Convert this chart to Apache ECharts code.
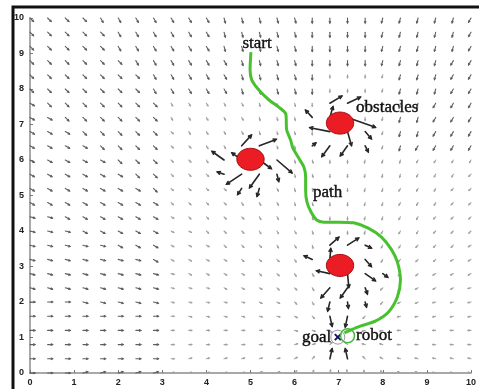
<!DOCTYPE html>
<html><head><meta charset="utf-8">
<script src="https://cdn.jsdelivr.net/npm/echarts@6/dist/echarts.min.js"></script>
<style>html,body{margin:0;padding:0;background:#fff;}#c{width:479px;height:389px;}</style>
</head><body><div id="c"></div>
<script>
// ---------- data ----------
const xTicks = [0,1,2,3,4,5,6,7,8,9,10];
const yTicks = [0,1,2,3,4,5,6,7,8,9,10];
// sample grid of the force field
const fieldX = [0,0.4,0.8,1.2,1.6,2,2.4,2.8,3.2,3.6,4,4.4,4.8,5.2,5.6,6,6.4,6.8,7.2,7.6,8,8.4,8.8,9.2,9.6,10];
const fieldY = [10,9.6,9.2,8.8,8.4,8,7.6,7.2,6.8,6.4,6,5.6,5.2,4.8,4.4,4,3.6,3.2,2.8,2.4,2,1.6,1.2,0.8,0.4,0];
// direction code per sample: A=0deg, B=15deg ... X=345deg ; upper case = strong arrow, lower case = weak arrow
const fieldRows = [
 "VVVVUUUUUUUTTTTTSSSSRRRRRQ",
 "VVVVVUUUUUUTTTTTSSSSRRRRRQ",
 "VVVVVUUUUUUTTTTTSSSSRRRRRQ",
 "VVVVVVUUUUUUTTTTSSSSRRRRQQ",
 "VVVVVVVUUUUUTTTTSsssrRRRQQ",
 "VVVVVVVUUUUUTTTTSsssrRRRQQ",
 "WVVVVVVVuuuuutttssssrRRQQQ",
 "WWVVVVVVuuuuutttssssrRRQQQ",
 "WWWVVVVVvuuuutttssssrRRQQQ",
 "WWWWVVVVvvuuuutttssrrRQQQQ",
 "WWWWWVVVvvuuuutttssrrrqqqq",
 "WWWWWWVVvvvuuutttssrrrqqqp",
 "WWWWWWWVvvvvuuuttssrrqqqpp",
 "WWWWWWWWvvvvuuuttssrrqqqpp",
 "XXWWWWWWwvvvvuuttssrrqqppp",
 "XXXWWWWWwwvvvuuutssrqqqppp",
 "XXXXXWWWwwwvvvuutssrqqpppo",
 "XXXXXXXWwwwwvvvutssrqpppoo",
 "XXXXXXXXxwwwwvvuutrqqppooo",
 "XXXXXXXXxxxwwwvvutrqppooon",
 "AAAXXXXXxxxxxwwvutrqpoonnn",
 "AAAAAAAAaxxxxxxwvuqponnnnn",
 "AAAAAAAAaaaaaaaxxvpnnmmmmm",
 "AAAAAAAAaaaaaaabbdjllmmmmm",
 "AAAAAAAAabbbbbbcdeijklllll",
 "AAABBBBBbbbbbccdefhijkklll"
];
// long arrows near the obstacles and the goal: [x, y, u, v]
const obstacleArrows = [
 [4.4,6.0,-0.27,0.24],[4.8,6.0,-0.22,0.20],[4.8,6.4,0.22,0.30],[5.2,6.4,0.38,0.18],
 [5.2,6.0,0.27,-0.24],[5.6,6.0,0.34,-0.36],[4.4,5.6,-0.15,0.06],[4.8,5.6,-0.34,-0.28],
 [5.2,5.6,-0.22,-0.38],[5.6,5.6,0.04,-0.20],[4.8,5.2,-0.09,-0.17],[5.2,5.2,-0.05,-0.22],
 [6.8,7.6,0.27,0.20],[7.2,7.6,0.29,0.17],[6.4,7.2,-0.15,0.20],[6.8,7.2,0.07,0.30],
 [7.2,7.2,0.63,-0.28],[6.8,6.8,-0.45,0.11],[7.2,6.8,0.09,-0.39],[7.6,6.8,0.14,-0.20],
 [6.4,6.4,0.08,0.08],[6.8,6.4,-0.18,-0.30],[7.2,6.4,-0.16,-0.28],[7.6,6.4,0.07,-0.17],
 [6.8,3.6,0.20,0.22],[7.2,3.6,0.25,0.20],[7.6,3.6,0.14,-0.08],[6.4,3.2,-0.18,0.10],
 [6.8,3.2,0.02,0.30],[7.6,3.2,0.14,-0.20],[6.8,2.8,-0.30,0.08],[7.2,2.8,0.03,-0.39],
 [7.6,2.8,0.23,-0.20],[8.0,2.8,0.11,-0.10],[6.8,2.4,-0.20,-0.28],[7.2,2.4,-0.16,-0.28],
 [7.6,2.4,0.05,-0.17],[6.8,2.0,-0.05,-0.25],[7.2,2.0,0.02,-0.17],[7.6,2.0,0.03,-0.14],
 [6.8,1.6,0.05,-0.28],[7.2,1.6,-0.05,-0.30],[6.8,0.4,0.05,0.28],[7.2,0.4,-0.05,0.28]
];
const obstacleX = [5.0, 7.03, 7.03];
const obstacleY = [6.02, 7.04, 3.03];
const obstacleR = [0.31, 0.31, 0.31];
const pathX = [5.01,4.99,5.03,5.19,5.42,5.64,5.80,5.82,5.91,5.96,6.09,6.21,6.25,6.25,6.28,6.37,6.50,6.66,7.00,7.34,7.67,7.97,8.19,8.33,8.40,8.33,8.13,7.83,7.49,7.27,7.13];
const pathY = [9.04,8.54,8.25,7.97,7.69,7.49,7.30,6.85,6.56,6.34,6.06,5.80,5.52,5.15,4.82,4.54,4.31,4.25,4.25,4.23,4.08,3.83,3.49,3.13,2.62,2.14,1.72,1.46,1.32,1.21,1.13];
const goalPoint = [6.98, 1.01];
const robotPoint = [7.2, 1.05];
const labelTexts = ["start", "obstacles", "path", "goal", "robot"];
const labelX = [5.15, 8.1, 6.75, 6.5, 7.8];
const labelY = [9.27, 7.49, 5.07, 1.0, 1.05];

// ---------- build series data ----------
function hasExplicit(x, y){
  return obstacleArrows.some(a => Math.abs(a[0]-x) < 1e-6 && Math.abs(a[1]-y) < 1e-6);
}
const fieldData = [];
fieldRows.forEach((row, r) => {
  for (let c = 0; c < row.length; c++) {
    const ch = row[c];
    if (ch === '.') continue;
    const x = fieldX[c], y = fieldY[r];
    if (hasExplicit(x, y)) continue;
    const code = ch.toUpperCase().charCodeAt(0) - 65;
    const strong = ch === ch.toUpperCase() ? 1 : 0;
    fieldData.push([x, y, code * 15, strong]);
  }
});
const pathData = pathX.map((x, i) => [x, pathY[i]]);
const obstacleData = obstacleX.map((x, i) => [x, obstacleY[i], obstacleR[i]]);
const labelData = labelX.map((x, i) => [x, labelY[i], i]);

function arrowEls(p0, p1, color, width, headLen){
  const dx = p1[0]-p0[0], dy = p1[1]-p0[1];
  const L = Math.sqrt(dx*dx+dy*dy) || 1;
  const ux = dx/L, uy = dy/L;
  const a = 0.5;
  const h1 = [p1[0] - headLen*(ux*Math.cos(a) - uy*Math.sin(a)), p1[1] - headLen*(uy*Math.cos(a) + ux*Math.sin(a))];
  const h2 = [p1[0] - headLen*(ux*Math.cos(a) + uy*Math.sin(a)), p1[1] - headLen*(uy*Math.cos(a) - ux*Math.sin(a))];
  return [
    {type:'line', shape:{x1:p0[0], y1:p0[1], x2:p1[0], y2:p1[1]}, style:{stroke:color, lineWidth:width, lineCap:'round'}},
    {type:'polyline', shape:{points:[h1, p1, h2]}, style:{stroke:color, lineWidth:width, fill:null, lineCap:'round'}}
  ];
}

const chart = echarts.init(document.getElementById('c'), null, {renderer:'canvas'});
const axisLabelStyle = {fontSize:9, fontWeight:'bold', color:'#222', fontFamily:'Liberation Sans'};
chart.setOption({
  animation:false,
  backgroundColor:'#ffffff',
  grid:{left:30, right:6, top:18, bottom:16, containLabel:false},
  xAxis:{type:'value', min:0, max:10, interval:1,
    axisLine:{show:true, onZero:false, lineStyle:{color:'#8c8c8c', width:1.5}},
    axisTick:{show:true, inside:true, length:3, lineStyle:{color:'#777'}},
    axisLabel:Object.assign({margin:5, customValues:xTicks}, axisLabelStyle),
    splitLine:{show:false}},
  yAxis:{type:'value', min:0, max:10, interval:1,
    axisLine:{show:true, onZero:false, lineStyle:{color:'#8c8c8c', width:1.5}},
    axisTick:{show:true, inside:true, length:3, lineStyle:{color:'#777'}},
    axisLabel:Object.assign({margin:6, customValues:yTicks}, axisLabelStyle),
    splitLine:{show:false}},
  graphic:[{type:'rect', shape:{x:13, y:7, width:480, height:400}, style:{fill:null, stroke:'#111', lineWidth:3}, z:100}],
  series:[
    {type:'custom', name:'field', data:fieldData, encode:{x:0, y:1}, z:2, silent:true,
     renderItem:function(params, api){
       const x = api.value(0), y = api.value(1), ang = api.value(2)*Math.PI/180, strong = api.value(3);
       const p0 = api.coord([x, y]);
       const L = strong ? 5 : 3;
       const p1 = [p0[0] + L*Math.cos(ang), p0[1] - L*Math.sin(ang)];
       return {type:'group', children: arrowEls(p0, p1, strong ? '#5e5e5e' : '#a2a2a2', 1.1, strong ? 1.6 : 1.1)};
     }},
    {type:'custom', name:'obstacleField', data:obstacleArrows, encode:{x:0, y:1}, z:3, silent:true,
     renderItem:function(params, api){
       const x = api.value(0), y = api.value(1);
       const p0 = api.coord([x, y]);
       const p1 = api.coord([x + api.value(2), y + api.value(3)]);
       return {type:'group', children: arrowEls(p0, p1, '#262626', 1.6, 3)};
     }},
    {type:'custom', name:'obstacles', data:obstacleData, encode:{x:0, y:1}, z:4, silent:true,
     renderItem:function(params, api){
       const c = api.coord([api.value(0), api.value(1)]);
       const s = api.size([api.value(2), api.value(2)]);
       const pts = [];
       for (let k = 0; k < 48; k++) {
         const t = k/48*Math.PI*2;
         pts.push([c[0] + s[0]*Math.cos(t), c[1] + s[1]*Math.sin(t)]);
       }
       return {type:'polygon', shape:{points:pts}, style:{fill:'#ec1c24', stroke:'#a30c10', lineWidth:1}};
     }},
    {type:'line', name:'path', data:pathData, showSymbol:false, smooth:0.25, z:5, silent:true,
     lineStyle:{color:'#47c22e', width:3}},
    {type:'custom', name:'markers', data:[[goalPoint[0], goalPoint[1], 0],[robotPoint[0], robotPoint[1], 1]], encode:{x:0, y:1}, z:6, silent:true,
     renderItem:function(params, api){
       const c = api.coord([api.value(0), api.value(1)]);
       if (api.value(2) === 0) {
         return {type:'group', children:[
           {type:'circle', shape:{cx:c[0], cy:c[1], r:7}, style:{fill:null, stroke:'#9a93a8', lineWidth:1}},
           {type:'line', shape:{x1:c[0]-3, y1:c[1]-3, x2:c[0]+3, y2:c[1]+3}, style:{stroke:'#14145a', lineWidth:2}},
           {type:'line', shape:{x1:c[0]-3, y1:c[1]+3, x2:c[0]+3, y2:c[1]-3}, style:{stroke:'#14145a', lineWidth:2}}
         ]};
       }
       return {type:'circle', shape:{cx:c[0], cy:c[1], r:7}, style:{fill:null, stroke:'#46b83a', lineWidth:1.5}};
     }},
    {type:'custom', name:'labels', data:labelData, encode:{x:0, y:1}, z:7, silent:true,
     renderItem:function(params, api){
       const c = api.coord([api.value(0), api.value(1)]);
       return {type:'text', x:c[0], y:c[1], style:{text:labelTexts[api.value(2)], fontSize:17, fontFamily:'Liberation Serif', fill:'#111', stroke:'#111', lineWidth:0.4, align:'center', verticalAlign:'middle'}};
     }}
  ]
});
</script>
</body></html>
